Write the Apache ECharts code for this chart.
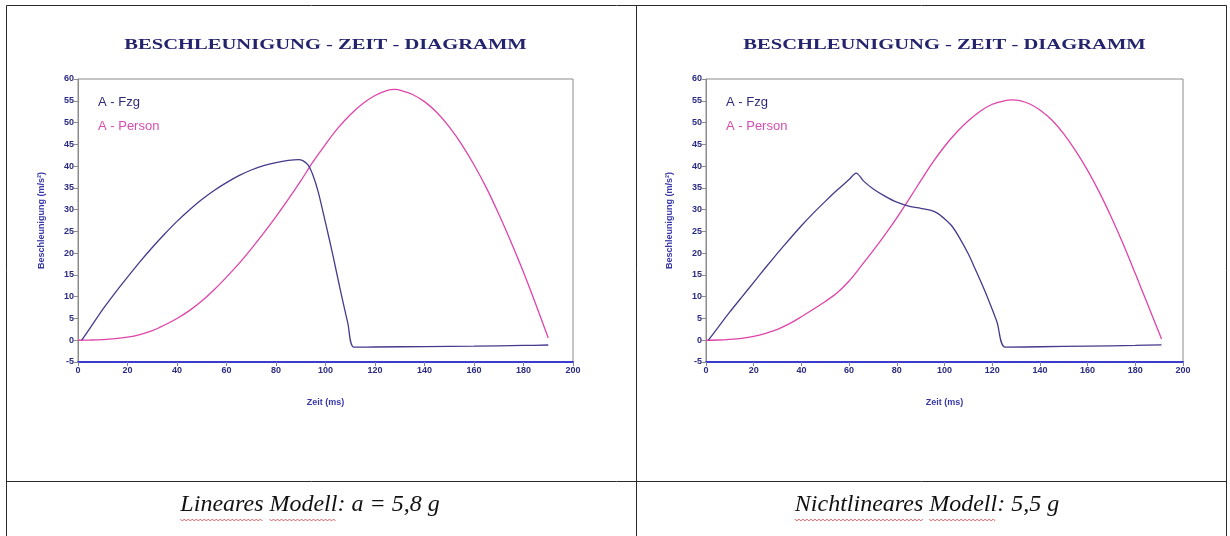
<!DOCTYPE html>
<html>
<head>
<meta charset="utf-8">
<title>Beschleunigung - Zeit - Diagramm</title>
<script src="https://cdn.jsdelivr.net/npm/echarts@6/dist/echarts.min.js"></script>
<style>
  html, body { margin: 0; padding: 0; background: #ffffff; }
  #chart { width: 1230px; height: 536px; }
</style>
</head>
<body>
<div id="chart"></div>
<script>
// Lineares Modell – Fahrzeugbeschleunigung
const timeFzgLin = [1.5, 5, 10, 15, 20, 25, 30, 35, 40, 45, 50, 55, 60, 65, 70, 75, 80, 85, 89, 91, 93, 95, 97, 100, 103, 106, 109, 111.5, 120, 140, 160, 180, 190];
const accFzgLin  = [0, 2.9, 7.1, 10.9, 14.5, 18.0, 21.3, 24.4, 27.3, 29.9, 32.3, 34.4, 36.2, 37.8, 39.1, 40.1, 40.8, 41.3, 41.5, 41.2, 40.2, 37.8, 34.2, 27.0, 19.5, 11.5, 4.0, -1.6, -1.55, -1.45, -1.35, -1.2, -1.1];

// Lineares Modell – Personenbeschleunigung
const timePersonLin = [0, 5, 10, 15, 20, 25, 30, 35, 40, 45, 50, 55, 60, 65, 70, 75, 80, 85, 90, 95, 100, 105, 110, 115, 120, 125, 128, 131, 135, 140, 145, 150, 155, 160, 165, 170, 175, 180, 185, 190];
const accPersonLin  = [0, 0.05, 0.15, 0.35, 0.7, 1.3, 2.2, 3.5, 5.0, 6.8, 9.0, 11.6, 14.5, 17.6, 21.0, 24.6, 28.4, 32.4, 36.6, 41.0, 45.0, 48.7, 51.8, 54.3, 56.2, 57.4, 57.6, 57.3, 56.5, 54.8, 52.3, 49.0, 45.0, 40.3, 35.0, 29.0, 22.5, 15.6, 8.2, 0.5];

// Nichtlineares Modell – Fahrzeugbeschleunigung
const timeFzgNl = [1, 5, 10, 15, 20, 25, 30, 35, 40, 45, 50, 55, 60, 63, 66, 70, 75, 80, 85, 90, 94, 97, 100, 103, 106, 110, 113, 116, 119, 122, 125.5, 140, 160, 180, 191];
const accFzgNl  = [0, 2.9, 6.5, 9.9, 13.3, 16.7, 20.0, 23.2, 26.3, 29.2, 31.9, 34.5, 36.9, 38.4, 36.6, 34.8, 33.1, 31.7, 30.8, 30.3, 29.9, 29.2, 27.9, 26.3, 23.8, 19.8, 16.2, 12.5, 8.5, 4.2, -1.6, -1.5, -1.35, -1.2, -1.05];

// Nichtlineares Modell – Personenbeschleunigung
const timePersonNl = [0, 5, 10, 15, 20, 25, 30, 35, 40, 45, 50, 55, 60, 65, 70, 75, 80, 85, 90, 95, 100, 105, 110, 115, 120, 125, 128, 132, 136, 140, 145, 150, 155, 160, 165, 170, 175, 180, 185, 191];
const accPersonNl  = [0, 0.05, 0.2, 0.45, 0.9, 1.6, 2.5, 3.8, 5.4, 7.1, 8.9, 10.9, 13.6, 17.0, 20.5, 24.2, 28.1, 32.3, 36.6, 40.8, 44.5, 47.7, 50.4, 52.6, 54.2, 55.0, 55.2, 55.0, 54.2, 52.9, 50.6, 47.4, 43.5, 39.0, 33.9, 28.2, 22.0, 15.3, 8.5, 0.3];

// Beschriftungen
const seriesNames = ['A - Fzg', 'A - Person'];
const chartTitle = 'BESCHLEUNIGUNG - ZEIT - DIAGRAMM';
const xAxisName = 'Zeit (ms)';
const yAxisName = 'Beschleunigung (m/s²)';
const captions = ['Lineares Modell: a = 5,8 g', 'Nichtlineares Modell: 5,5 g'];
const underlinedWords = [['Lineares', 'Modell'], ['Nichtlineares', 'Modell']];

const colorFzg = '#463a8c';
const colorPerson = '#e044a8';
const labelColor = '#2b2b82';
const nameColor = '#3838a8';

const zip = (xs, ys) => xs.map((x, i) => [x, ys[i]]);

const panels = [
  { left: 78, width: 495, fzg: zip(timeFzgLin, accFzgLin), person: zip(timePersonLin, accPersonLin), legendLeft: 87, captionX: 310 },
  { left: 706, width: 477, fzg: zip(timeFzgNl, accFzgNl), person: zip(timePersonNl, accPersonNl), legendLeft: 715, captionX: 927 }
];

const chart = echarts.init(document.getElementById('chart'), null, { renderer: 'canvas' });

const grids = [], xAxes = [], yAxes = [], series = [], legends = [], graphics = [];

panels.forEach((p, i) => {
  grids.push({
    left: p.left, width: p.width, top: 79, height: 283,
    show: true, borderColor: '#8c8c8c', borderWidth: 1, backgroundColor: '#ffffff'
  });
  xAxes.push({
    gridIndex: i, type: 'value', min: 0, max: 200, interval: 20,
    name: xAxisName, nameLocation: 'middle', nameGap: 36,
    nameTextStyle: { color: nameColor, fontFamily: 'Liberation Sans', fontWeight: 'bold', fontSize: 9 },
    axisLine: { onZero: false, lineStyle: { color: '#3b3bd0', width: 2 } },
    axisTick: { show: true, inside: false, length: 4, lineStyle: { color: '#7f7fa8' } },
    axisLabel: { color: labelColor, fontFamily: 'Liberation Sans', fontWeight: 'bold', fontSize: 9, margin: 4 },
    splitLine: { show: false }
  });
  yAxes.push({
    gridIndex: i, type: 'value', min: -5, max: 60, interval: 5,
    name: yAxisName, nameLocation: 'middle', nameGap: 32, nameRotate: 90,
    nameTextStyle: { color: nameColor, fontFamily: 'Liberation Sans', fontWeight: 'bold', fontSize: 9 },
    axisLine: { show: true, onZero: false, lineStyle: { color: '#8c8c8c', width: 1 } },
    axisTick: { show: true, inside: false, length: 4, lineStyle: { color: '#8c8c8c' } },
    axisLabel: { color: labelColor, fontFamily: 'Liberation Sans', fontWeight: 'bold', fontSize: 9, margin: 4 },
    splitLine: { show: false }
  });
  series.push({
    name: seriesNames[0], type: 'line', xAxisIndex: i, yAxisIndex: i,
    data: p.fzg, showSymbol: false, smooth: 0.3, z: 3,
    lineStyle: { color: colorFzg, width: 1.3 }, itemStyle: { color: colorFzg }
  });
  series.push({
    name: seriesNames[1], type: 'line', xAxisIndex: i, yAxisIndex: i,
    data: p.person, showSymbol: false, smooth: 0.3, z: 2,
    lineStyle: { color: colorPerson, width: 1.3 }, itemStyle: { color: colorPerson }
  });
  legends.push({
    left: p.legendLeft, top: 90, orient: 'vertical', selectedMode: false,
    itemWidth: 0, itemHeight: 0, itemGap: 10,
    textStyle: { fontFamily: 'Liberation Sans', fontSize: 13, lineHeight: 14 },
    data: [
      { name: seriesNames[0], textStyle: { color: '#2f2a7a' } },
      { name: seriesNames[1], textStyle: { color: '#d84cb0' } }
    ]
  });
  // Diagrammtitel, breit gezogene Antiqua
  graphics.push({
    type: 'text', x: p.left + p.width / 2, y: 45, scaleX: 1.47, scaleY: 1,
    style: {
      text: chartTitle, fill: '#23236e',
      font: 'bold 14px "Liberation Serif"',
      textAlign: 'center', textVerticalAlign: 'middle'
    }
  });
});

// Tabellenrahmen
const lineColor = '#2a2a2a';
const tableLines = [
  [6.5, 5.5, 1226.5, 5.5],
  [6.5, 5.5, 6.5, 536],
  [636.5, 5.5, 636.5, 536],
  [1226.5, 5.5, 1226.5, 536],
  [6.5, 481.5, 1226.5, 481.5]
];
tableLines.forEach(l => {
  graphics.push({
    type: 'line', silent: true,
    shape: { x1: l[0], y1: l[1], x2: l[2], y2: l[3] },
    style: { stroke: lineColor, lineWidth: 1 }
  });
});

// Bildunterschriften mit Wellenlinie unter markierten Wörtern
const captionFont = 'italic 24px "Liberation Serif"';
const measureCtx = document.createElement('canvas').getContext('2d');
measureCtx.font = captionFont;
panels.forEach((p, i) => {
  const text = captions[i];
  graphics.push({
    type: 'text', x: p.captionX, y: 505,
    style: { text: text, fill: '#111111', font: captionFont, textAlign: 'center', textVerticalAlign: 'middle' }
  });
  const total = measureCtx.measureText(text).width;
  const start = p.captionX - total / 2;
  underlinedWords[i].forEach(word => {
    const idx = text.indexOf(word);
    const x0 = start + measureCtx.measureText(text.slice(0, idx)).width;
    const x1 = x0 + measureCtx.measureText(word).width;
    const pts = [];
    let up = true;
    for (let x = x0; x <= x1; x += 2) {
      pts.push([x, up ? 519 : 521]);
      up = !up;
    }
    graphics.push({
      type: 'polyline', silent: true,
      shape: { points: pts },
      style: { stroke: '#d23a3a', lineWidth: 0.8, fill: null }
    });
  });
});

chart.setOption({
  animation: false,
  backgroundColor: '#ffffff',
  grid: grids,
  xAxis: xAxes,
  yAxis: yAxes,
  legend: legends,
  series: series,
  graphic: graphics
});
</script>
</body>
</html>
